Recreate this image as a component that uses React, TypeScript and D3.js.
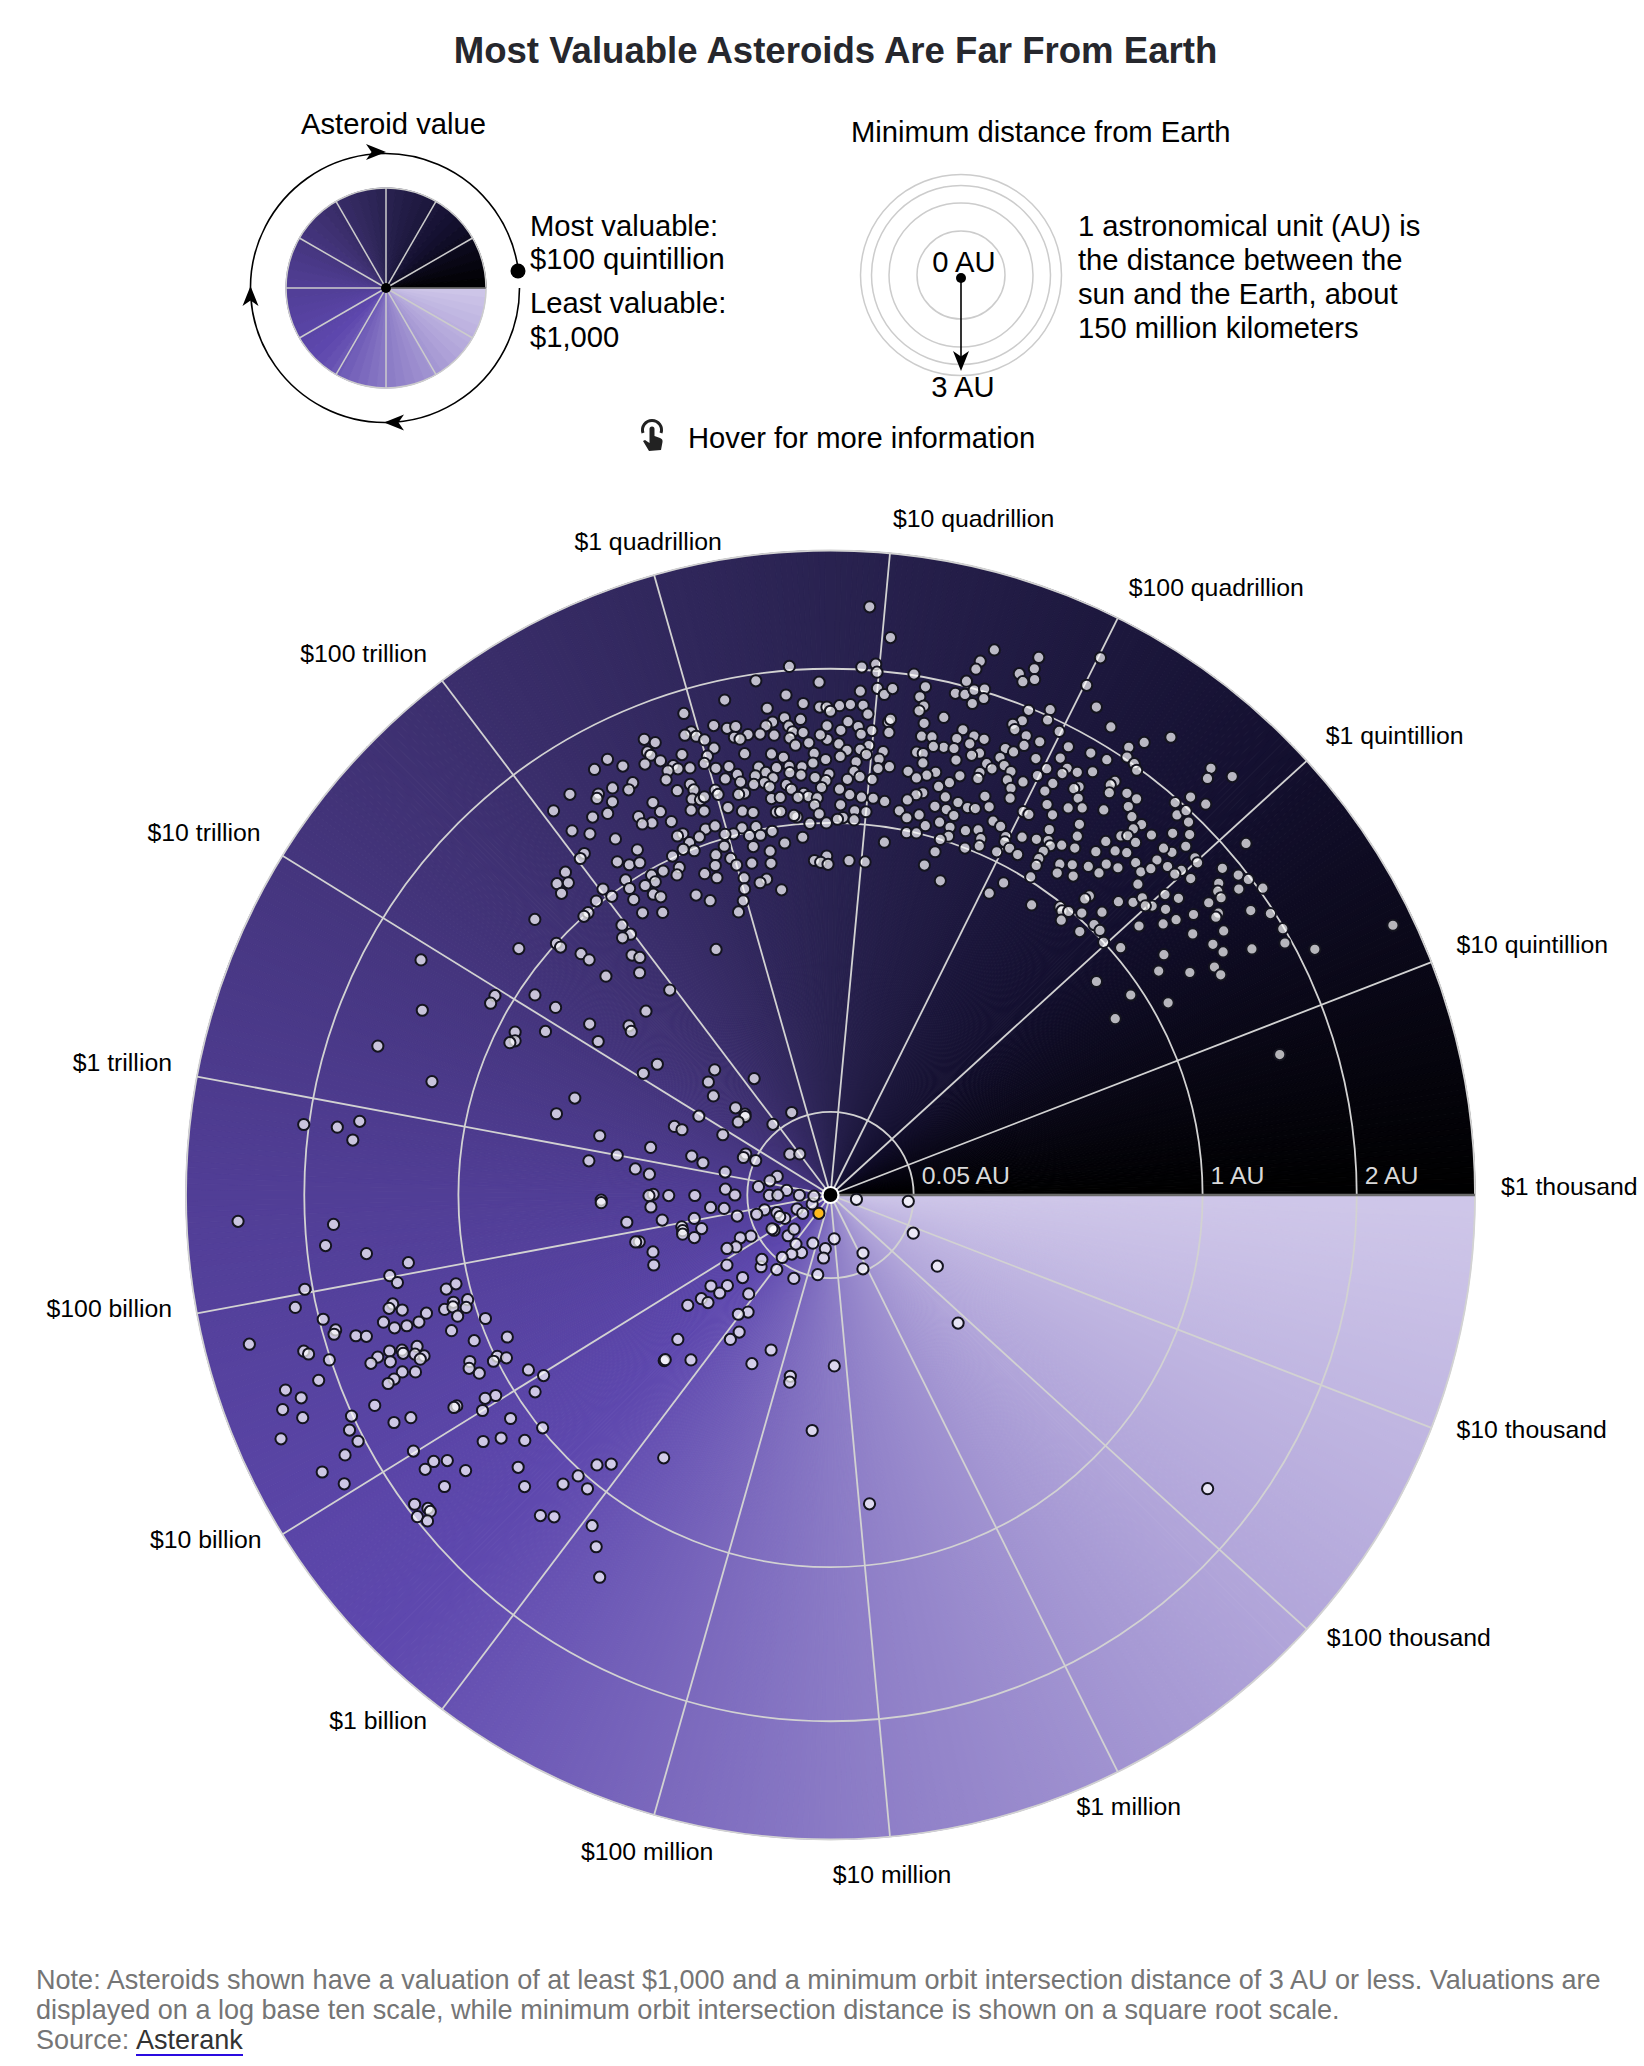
import { useEffect, useRef } from 'react'
import * as d3 from 'd3'

type Rock = [number, number] // [log10 of value in dollars, minimum orbit distance in AU]

const valueTicks = [3, 4, 5, 6, 7, 8, 9, 10, 11, 12, 13, 14, 15, 16, 17, 18, 19]
const valueLabels = [
  '$1 thousand', '$10 thousand', '$100 thousand', '$1 million', '$10 million', '$100 million',
  '$1 billion', '$10 billion', '$100 billion', '$1 trillion', '$10 trillion', '$100 trillion',
  '$1 quadrillion', '$10 quadrillion', '$100 quadrillion', '$1 quintillion', '$10 quintillion',
]
const distanceTicks = [0.05, 1, 2, 3]
const distanceLabels = ['0.05 AU', '1 AU', '2 AU']

const wheelStops = ['#cfc7e9', '#b0a4d9', '#8a7ac5', '#5e48ae', '#513e96', '#3f3173', '#292250', '#141030', '#000000']

const beltWest: Rock[] = [
  [15.93,2.51],[16.04,2.27],[15.54,2.03],[15.91,2.02],[15.98,2.05],[15.99,1.99],[15.36,1.95],[15.69,1.90],[15.91,1.84],[16.0,1.87],
  [16.04,1.83],[16.08,1.88],[15.18,1.85],[15.51,1.82],[15.60,1.75],[15.40,1.74],[15.69,1.72],[15.73,1.72],[15.80,1.73],[15.86,1.74],
  [15.93,1.74],[15.75,1.69],[14.95,1.83],[15.96,1.68],[15.49,1.66],[15.58,1.64],[15.42,1.64],[15.09,1.69],[15.16,1.65],[15.21,1.65],
  [15.38,1.62],[15.51,1.60],[15.85,1.62],[15.91,1.59],[16.08,1.64],[16.09,1.66],[16.09,1.57],[14.96,1.69],[14.92,1.68],[14.98,1.65],
  [15.53,1.56],[15.59,1.55],[15.99,1.57],[15.73,1.59],[15.81,1.56],[15.27,1.58],[15.34,1.57],[15.42,1.55],[15.19,1.58],[15.22,1.56],
  [14.70,1.75],[14.75,1.70],[15.02,1.61],[15.73,1.50],[15.93,1.54],[15.51,1.52],[15.69,1.53],[15.62,1.48],[15.54,1.47],[15.80,1.47],
  [15.98,1.47],[15.06,1.54],[15.93,1.44],[15.85,1.43],[14.69,1.66],[14.87,1.56],[15.23,1.46],[15.39,1.43],[15.65,1.41],[16.07,1.44],
  [15.81,1.39],[15.97,1.41],[15.72,1.37],[16.05,1.39],[14.70,1.63],[15.01,1.50],[14.47,1.73],[14.74,1.57],[15.46,1.40],[15.91,1.36],
  [14.38,1.71],[14.53,1.64],[14.65,1.59],[14.80,1.51],[14.82,1.48],[14.89,1.46],[14.98,1.46],[15.04,1.41],[15.12,1.40],[15.30,1.36],
  [15.41,1.34],[15.57,1.33],[15.64,1.35],[15.49,1.34],[16.05,1.33],[16.12,1.35],[14.76,1.49],[15.16,1.34],[15.34,1.32],[15.49,1.30],
  [15.56,1.28],[15.65,1.26],[15.74,1.28],[15.90,1.30],[15.94,1.27],[16.02,1.26],[14.73,1.44],[15.08,1.33],[15.17,1.29],[15.27,1.31],
  [15.38,1.28],[15.32,1.26],[15.86,1.25],[15.72,1.24],[14.54,1.51],[14.42,1.54],[15.25,1.26],[15.35,1.23],[15.46,1.23],[15.49,1.20],
  [15.69,1.20],[15.81,1.19],[15.88,1.16],[14.50,1.48],[14.33,1.55],[14.86,1.36],[14.87,1.32],[14.77,1.35],[15.0,1.28],[15.18,1.22],
  [15.14,1.22],[15.01,1.25],[15.57,1.17],[15.60,1.15],[15.66,1.14],[15.96,1.15],[16.04,1.15],[16.12,1.14],[14.19,1.65],[14.31,1.53],
  [14.38,1.46],[14.84,1.27],[14.89,1.25],[14.92,1.26],[14.60,1.34],[15.35,1.16],[15.41,1.16],[15.53,1.15],[15.64,1.10],[15.82,1.10],
  [15.05,1.16],[14.62,1.27],[14.06,1.62],[14.32,1.41],[14.81,1.21],[14.89,1.18],[15.14,1.12],[15.21,1.10],[15.37,1.08],[15.40,1.08],
  [15.92,1.07],[16.0,1.07],[14.48,1.30],[14.23,1.44],[14.66,1.19],[15.51,1.04],[15.49,1.05],[15.67,1.05],[15.60,1.00],[15.72,1.00],
  [15.84,1.03],[15.80,1.02],[15.92,1.02],[14.54,1.23],[14.48,1.25],[14.86,1.08],[14.93,1.08],[15.21,1.02],[15.11,1.03],[14.08,1.44],
  [14.16,1.36],[14.70,1.10],[14.80,1.05],[15.04,1.01],[14.98,1.02],[15.15,0.98],[15.23,0.97],[15.32,0.98],[15.54,0.93],[15.40,0.91],
  [14.66,1.10],[14.28,1.25],[14.72,1.04],[14.37,1.13],[14.06,1.28],[14.02,1.27],[14.73,0.99],[14.95,0.96],[15.16,0.92],[15.28,0.88],
  [16.16,0.92],[14.87,0.93],[14.57,1.01],[14.66,1.02],[14.21,1.13],[14.27,1.08],[14.34,1.06],[14.97,0.89],[15.0,0.85],[15.12,0.84],
  [15.27,0.82],[15.72,0.83],[15.62,0.81],[15.67,0.80],[15.73,0.79],[15.90,0.81],[16.03,0.81],[14.84,0.88],[14.58,0.94],[14.74,0.86],
  [14.46,0.96],[14.54,0.91],[14.37,0.97],[14.37,0.93],[14.82,0.82],[13.89,1.26],[13.80,1.24],[13.86,1.20],[13.78,1.18],[14.19,1.02],
  [14.02,1.05],[14.18,0.97],[14.29,0.94],[15.03,0.78],[15.21,0.75],[15.15,0.74],[15.01,0.73],[15.32,0.69],[14.31,0.88],[14.35,0.85],
  [14.04,0.99],[14.61,0.78],[14.70,0.73],[14.16,0.91],[13.93,1.02],[14.97,0.68],[13.83,1.00],[13.79,1.00],[14.16,0.83],[14.30,0.78],
  [14.90,0.64],[13.53,1.18],
]

const beltEast: Rock[] = [
  [16.54,2.34],[16.49,2.22],[16.48,2.15],[16.75,2.40],[16.75,2.30],[16.69,2.22],[16.72,2.17],[16.77,2.22],[16.18,2.01],[17.01,2.61],
  [16.25,1.93],[16.45,2.04],[17.01,2.35],[16.41,1.93],[16.46,1.94],[16.50,1.99],[16.55,2.02],[16.56,1.95],[16.51,1.89],[16.23,1.85],
  [16.26,1.79],[16.24,1.75],[16.38,1.74],[16.80,1.98],[16.90,2.05],[17.10,2.23],[16.79,1.89],[16.91,1.97],[16.75,1.84],[16.77,1.81],
  [16.28,1.67],[16.99,1.93],[17.21,2.15],[16.50,1.69],[16.57,1.67],[16.63,1.67],[16.28,1.58],[16.34,1.59],[16.48,1.62],[16.84,1.80],
  [16.92,1.80],[17.48,2.35],[17.39,2.19],[17.34,2.09],[16.56,1.61],[16.42,1.54],[16.48,1.55],[17.07,1.86],[16.85,1.73],[16.36,1.53],
  [16.63,1.57],[16.76,1.66],[16.81,1.66],[17.19,1.90],[17.36,2.02],[16.51,1.48],[16.27,1.47],[16.31,1.47],[16.59,1.54],[16.75,1.59],
  [17.06,1.76],[16.94,1.68],[17.28,1.92],[17.41,2.01],[16.32,1.41],[16.69,1.52],[17.02,1.65],[17.12,1.72],[17.72,2.36],[17.44,1.98],
  [16.73,1.50],[16.79,1.55],[16.84,1.53],[16.24,1.34],[16.41,1.37],[16.67,1.45],[17.11,1.67],[17.18,1.73],[17.25,1.79],[17.74,2.28],
  [17.82,2.43],[16.36,1.34],[16.56,1.39],[16.67,1.41],[16.84,1.47],[16.99,1.58],[16.93,1.50],[16.30,1.31],[16.51,1.33],[17.09,1.58],
  [17.23,1.65],[17.38,1.82],[17.07,1.51],[17.21,1.62],[17.37,1.78],[16.88,1.43],[16.45,1.29],[16.36,1.23],[17.39,1.73],[17.47,1.80],
  [16.90,1.37],[17.74,2.08],[17.53,1.81],[16.32,1.21],[16.51,1.24],[17.26,1.58],[17.70,1.97],[16.75,1.32],[17.82,2.12],[16.27,1.17],
  [16.23,1.10],[16.60,1.23],[16.46,1.17],[16.67,1.22],[17.12,1.44],[17.24,1.49],[17.31,1.54],[17.42,1.61],[16.54,1.17],[16.72,1.23],
  [16.80,1.27],[17.52,1.73],[17.18,1.40],[17.01,1.33],[17.05,1.33],[17.75,1.91],[17.77,1.98],[16.37,1.10],[16.60,1.15],[17.57,1.69],
  [16.29,1.07],[17.82,1.93],[17.35,1.44],[16.86,1.20],[16.43,1.05],[17.64,1.69],[16.52,1.09],[16.60,1.08],[16.92,1.19],[16.79,1.12],
  [16.71,1.09],[16.31,0.99],[16.38,1.00],[17.87,1.87],[17.08,1.19],[17.21,1.31],[17.62,1.63],[16.61,1.03],[16.56,1.00],[16.83,1.08],
  [16.98,1.15],[17.17,1.22],[17.24,1.25],[17.38,1.37],[17.80,1.79],[17.72,1.68],[17.59,1.54],[17.62,1.57],[18.10,2.14],[17.68,1.57],
  [17.54,1.45],[17.33,1.27],[16.84,1.04],[16.99,1.12],[17.27,1.23],[17.53,1.36],[17.62,1.44],[17.41,1.30],[17.90,1.79],[17.87,1.69],
  [16.75,1.00],[17.04,1.10],[17.82,1.67],[16.55,0.93],[17.68,1.48],[16.97,1.05],[17.11,1.09],[17.25,1.18],[17.25,1.13],[17.84,1.58],
  [17.76,1.47],[17.55,1.26],[17.63,1.34],[17.98,1.78],[16.50,0.85],[17.39,1.17],[17.46,1.21],[18.01,1.77],[17.70,1.37],[17.91,1.60],
  [18.12,1.88],[17.26,1.09],[17.41,1.12],[17.63,1.27],[17.51,1.16],[17.82,1.45],[17.85,1.51],[17.98,1.65],[17.97,1.60],[18.20,1.94],
  [17.27,1.02],[16.66,0.80],[17.12,0.92],[18.05,1.66],[18.25,1.98],[17.86,1.38],[18.17,1.79],[18.33,2.03],[17.06,0.84],[17.68,1.13],
  [18.26,1.88],[17.67,1.10],[18.02,1.46],[18.09,1.51],[18.20,1.75],[17.39,0.90],[17.85,1.22],[17.92,1.28],[17.94,1.34],[18.24,1.74],
  [18.02,1.35],[18.22,1.65],[17.57,0.98],[17.99,1.32],[18.09,1.40],[18.30,1.66],[18.39,1.86],[17.60,0.97],[17.64,0.99],[17.72,1.03],
  [17.82,1.11],[18.22,1.52],[18.46,1.97],[18.31,1.63],[18.18,1.41],[17.64,0.93],[18.15,1.33],[17.84,1.03],[17.90,1.03],[18.06,1.21],
  [18.40,1.62],[18.56,1.99],[17.80,0.95],[18.31,1.44],[17.98,1.00],[18.09,1.05],[18.43,1.51],[18.63,1.95],[18.57,1.72],[18.73,2.13],
  [18.50,1.54],[18.31,1.22],[18.55,1.44],[18.38,1.14],[18.50,1.29],[18.61,1.45],[18.17,0.84],[18.41,0.94],[18.60,1.09],[18.50,0.81],
  [19.18,1.60],[18.79,2.81],
]

const innerNorthWest: Rock[] = [
  [13.97,0.84],[13.98,0.78],[13.91,0.79],[13.31,1.14],[13.51,1.00],[13.51,0.97],[13.58,0.87],[13.59,0.82],[13.88,0.70],[13.92,0.67],
  [14.57,0.53],[13.59,0.71],[13.83,0.62],[13.95,0.49],[12.95,1.10],[12.89,1.10],[13.11,0.92],[13.12,0.80],[13.62,0.49],[12.79,0.91],
  [12.73,0.89],[12.70,0.91],[12.91,0.78],[13.17,0.63],[13.08,0.56],[13.39,0.50],[13.36,0.48],[13.25,0.34],[13.06,0.36],[13.73,0.21],
  [13.52,0.20],[13.40,0.17],[14.18,0.14],[12.48,0.54],[12.28,0.59],[12.96,0.17],[13.51,0.12],[13.55,0.10],[13.51,0.097],[13.31,0.10],
  [13.90,0.06],[14.56,0.06],[12.62,0.21],[12.62,0.19],[12.88,0.11],[12.18,0.41],[12.20,0.25],[11.88,0.43],[12.0,0.34],[12.24,0.15],
  [12.17,0.125],[12.72,0.064],[12.60,0.065],[12.67,0.049],[13.63,0.024],[14.01,0.019],[11.86,0.28],[11.81,0.24],[12.08,0.084],[12.41,0.023],
  [12.12,0.028],[11.81,0.038],[11.78,0.014],[11.65,0.08],[11.50,0.066],[11.51,0.227],[11.49,0.238],[11.49,0.189],[11.49,0.133],[11.44,0.38],
  [11.48,0.027],[11.49,0.02],[11.48,0.007],
  [12.91,1.61],[12.65,1.45],[12.36,1.64],[12.25,1.24],[11.86,2.04],[11.87,1.79],[11.92,1.64],[11.81,1.67],
]

const innerSouth: Rock[] = [
  [10.27,0.003],[11.31,0.002],[10.42,0.0095],[9.92,0.008],[10.22,0.019],[10.64,0.023],[10.41,0.022],[10.90,0.033],[10.81,0.042],[10.90,0.066],
  [11.16,0.083],[11.22,0.105],[11.32,0.234],[3.45,0.005],[3.22,0.044],[4.17,0.06],[5.87,0.032],[6.13,0.047],[4.59,0.119],[5.13,0.236],
  [7.02,0.014],[8.20,0.019],[7.51,0.021],[7.55,0.029],[7.68,0.047],[8.37,0.06],[8.51,0.03],[8.82,0.036],[8.91,0.026],[9.43,0.025],
  [9.46,0.018],[9.03,0.045],[8.94,0.061],[9.33,0.072],[9.46,0.064],[10.03,0.032],[9.99,0.032],[10.08,0.033],[10.21,0.058],[10.30,0.072],
  [10.14,0.084],[10.21,0.098],[9.89,0.113],[9.46,0.105],[9.55,0.136],[9.74,0.163],[9.54,0.158],[9.67,0.198],[9.55,0.192],[9.72,0.235],
  [9.12,0.119],[8.91,0.148],[9.03,0.164],[8.84,0.196],[8.89,0.223],[8.24,0.199],[9.45,0.319],[10.66,0.251],[10.48,0.261],[11.10,0.209],
  [11.04,0.138],[10.68,0.147],[10.81,0.128],[10.93,0.167],[10.86,0.167],[10.80,0.169],[10.85,0.28],
  [9.38,0.398],[9.38,0.393],[9.15,0.337],[8.43,0.25],[7.84,0.249],[7.83,0.265],[7.19,0.211],[7.46,0.403],[6.91,0.70],[8.78,0.70],[4.79,1.65],
]

const southWest: Rock[] = [
  [11.38,2.54],[11.34,1.79],[11.23,1.86],[11.16,1.58],[11.07,1.32],[11.01,1.45],[10.96,1.41],[11.02,2.06],[10.94,2.16],[10.85,1.97],
  [10.78,1.90],[10.76,1.92],[10.72,1.77],[10.70,1.70],[10.82,2.60],[10.72,2.18],[10.70,2.15],[10.64,2.01],[10.56,2.14],[10.57,2.42],
  [10.51,2.32],[10.49,2.50],[10.42,2.37],[10.37,2.61],[10.33,2.01],[10.27,2.07],[10.20,2.05],[10.17,2.19],[10.15,2.42],[10.05,2.31],
  [10.84,1.47],[10.82,1.50],[10.79,1.42],[10.73,1.28],[10.69,1.34],[10.69,1.42],[10.70,1.50],[10.75,1.56],[10.85,1.13],[10.87,1.07],
  [10.75,1.11],[10.74,1.03],[10.72,1.17],[10.72,1.12],[10.69,1.05],[10.65,1.11],[10.57,0.97],[10.57,1.17],[10.45,1.07],[10.38,0.90],
  [10.58,1.58],[10.56,1.50],[10.54,1.50],[10.55,1.40],[10.51,1.43],[10.48,1.38],[10.47,1.41],[10.57,1.67],[10.55,1.73],[10.52,1.60],
  [10.44,1.55],[10.41,1.47],[10.42,1.62],[10.41,1.67],[10.28,0.99],[10.24,0.95],[10.26,1.02],[10.33,1.14],[10.29,1.16],[10.23,1.12],
  [10.08,0.88],[9.98,0.83],[9.91,0.91],[10.04,1.10],[10.06,1.16],[10.00,1.21],[10.11,1.33],[10.11,1.35],[10.33,1.82],[10.20,1.75],
  [10.18,1.63],[9.85,1.10],[9.66,0.99],[9.83,1.31],[9.78,1.21],[9.67,1.11],[10.01,1.73],[9.90,1.65],[9.86,1.57],[9.89,1.73],
  [9.75,1.51],[9.75,1.69],[9.56,1.24],[9.44,1.29],[9.27,1.12],[9.23,1.03],[9.12,1.05],[9.18,0.92],[9.10,0.87],[9.77,1.94],
  [9.71,1.88],[9.69,1.88],[9.71,1.98],[9.66,1.94],[9.24,1.35],[9.17,1.30],[8.94,1.20],[8.84,1.29],[8.72,1.44],[11.41,0.38],
  [11.14,0.305],[10.86,0.29],
]

// the one rock picked out in yellow, right next to the centre
const highlighted: Rock[] = [[8.78, 0.0034]]

const rockGroups = [beltWest, beltEast, innerNorthWest, innerSouth, southWest]

const width = 1644
const height = 2066
const font = '"Liberation Sans", Arial, sans-serif'

export default function App() {
  const svgRef = useRef<SVGSVGElement>(null)

  useEffect(() => {
    if (!svgRef.current) return
    const svg = d3.select(svgRef.current)
    svg.selectAll('*').remove()

    const angle = d3.scaleLinear().domain([3, 20]).range([0, 2 * Math.PI])
    const radius = d3.scaleSqrt().domain([0, 3]).range([0, 644.5])
    const color = d3.scaleLinear<string>()
      .domain(wheelStops.map((_, i) => (i / (wheelStops.length - 1)) * 2 * Math.PI))
      .range(wheelStops)
      .interpolate(d3.interpolateRgb)

    // d3.pointRadial and d3.arc count from north, the chart counts from east
    const north = Math.PI / 2

    const drawWheel = (g: d3.Selection<SVGGElement, unknown, null, undefined>, r: number, steps: number) => {
      const arc = d3.arc<number>()
        .innerRadius(0)
        .outerRadius(r)
        .startAngle(i => (i / steps) * 2 * Math.PI + north)
        .endAngle(i => ((i + 1) / steps) * 2 * Math.PI + north)
      g.selectAll('path.wedge')
        .data(d3.range(steps))
        .join('path')
        .attr('class', 'wedge')
        .attr('d', arc)
        .attr('fill', i => color(((i + 0.5) / steps) * 2 * Math.PI))
        .attr('stroke', i => color(((i + 0.5) / steps) * 2 * Math.PI))
        .attr('stroke-width', 1)
    }

    const stealth = (g: d3.Selection<SVGGElement, unknown, null, undefined>, x: number, y: number, rot: number) => {
      g.append('path')
        .attr('d', 'M0,0L-20,-8L-14.5,0L-20,8Z')
        .attr('transform', `translate(${x},${y}) rotate(${rot})`)
        .attr('fill', '#000')
    }

    const label = (x: number, y: number, text: string, size = 29.2, anchor = 'start', fill = '#000', weight = 'normal') =>
      svg.append('text')
        .attr('x', x)
        .attr('y', y)
        .attr('text-anchor', anchor)
        .attr('font-family', font)
        .attr('font-size', size)
        .attr('font-weight', weight)
        .attr('fill', fill)
        .text(text)

    label(835.5, 63, 'Most Valuable Asteroids Are Far From Earth', 36.6, 'middle', '#26272d', 'bold')

    // value legend
    const valueKey = svg.append('g').attr('transform', 'translate(386,288)')
    drawWheel(valueKey, 100, 64)
    valueKey.append('circle').attr('r', 100).attr('fill', 'none').attr('stroke', '#ccc').attr('stroke-width', 1.5)
    d3.range(12).forEach(i => {
      const t = (i * Math.PI) / 6
      valueKey.append('line')
        .attr('x2', 100 * Math.cos(t))
        .attr('y2', 100 * Math.sin(t))
        .attr('stroke', i === 0 ? '#777' : '#ccc')
        .attr('stroke-width', 1.5)
    })
    valueKey.append('circle').attr('r', 5).attr('fill', '#000')
    const ringPath = d3.path()
    ringPath.arc(-1, 0, 134.5, 0, (352 / 180) * Math.PI)
    valueKey.append('path').attr('d', ringPath.toString()).attr('fill', 'none').attr('stroke', '#000').attr('stroke-width', 1.6)
    stealth(valueKey, -2, 134.5, 180)
    stealth(valueKey, -135.5, -2, -90)
    stealth(valueKey, 0, -136, 0)
    valueKey.append('circle').attr('cx', 132).attr('cy', -17).attr('r', 7.5).attr('fill', '#000')

    label(301, 134, 'Asteroid value')
    label(530, 236, 'Most valuable:')
    label(530, 269, '$100 quintillion')
    label(530, 313, 'Least valuable:')
    label(530, 347, '$1,000')

    // distance legend
    const distKey = svg.append('g').attr('transform', 'translate(961,275)')
    ;[100.5, 89.5, 72, 44].forEach(r => {
      distKey.append('circle').attr('r', r).attr('fill', 'none').attr('stroke', '#ccc').attr('stroke-width', 1.5)
    })
    distKey.append('line').attr('y1', 3).attr('y2', 88).attr('stroke', '#000').attr('stroke-width', 1.6)
    stealth(distKey, 0, 96, 90)
    distKey.append('circle').attr('cy', 3).attr('r', 5).attr('fill', '#000')
    label(851, 142, 'Minimum distance from Earth')
    label(964, 272, '0 AU', 29.2, 'middle')
    label(963, 397, '3 AU', 29.2, 'middle')
    ;['1 astronomical unit (AU) is', 'the distance between the', 'sun and the Earth, about', '150 million kilometers'].forEach((t, i) => {
      label(1078, 236 + i * 34, t)
    })

    // hover hint
    const hand = svg.append('g').attr('transform', 'translate(652,437)').attr('fill', '#222')
    hand.append('path')
      .attr('d', 'M-9,-4A9.5,9.5 0 1 1 9,-4')
      .attr('fill', 'none')
      .attr('stroke', '#222')
      .attr('stroke-width', 3)
    hand.append('path')
      .attr('d', 'M-2.5,-8A2.5,2.5 0 0 1 2.5,-8L2.5,-1L8,1Q11,2 10.5,5L9,13L-3,14L-9,4L-7,3L-2.5,6Z')
    label(688, 448, 'Hover for more information')

    // main wheel
    const chart = svg.append('g').attr('transform', 'translate(830.5,1195)')
    drawWheel(chart, radius(3), 720)

    chart.selectAll('circle.ring')
      .data(distanceTicks)
      .join('circle')
      .attr('class', 'ring')
      .attr('r', d => radius(d))
      .attr('fill', 'none')
      .attr('stroke', '#d2d2d2')
      .attr('stroke-width', 1.8)

    chart.selectAll('line.spoke')
      .data(valueTicks)
      .join('line')
      .attr('class', 'spoke')
      .attr('x2', d => radius(3) * Math.cos(angle(d)))
      .attr('y2', d => radius(3) * Math.sin(angle(d)))
      .attr('stroke', d => (d === 3 ? '#6a6a6a' : '#d2d2d2'))
      .attr('stroke-width', d => (d === 3 ? 2.4 : 1.8))

    chart.selectAll('text.ringLabel')
      .data(distanceLabels)
      .join('text')
      .attr('class', 'ringLabel')
      .attr('x', (_, i) => radius(distanceTicks[i]) + 8)
      .attr('y', -11)
      .attr('font-family', font)
      .attr('font-size', 24.8)
      .attr('fill', '#d9d9d9')
      .text(d => d)

    // tick labels sit off the end of their spoke; anchor and nudge are hand tuned per label
    const labelNudge: [string, number, number][] = [
      ['start', 26, 0], ['start', 25, 10], ['start', 20, 17], ['middle', 11, 43], ['middle', 2, 46], ['middle', -7, 45],
      ['end', -15, 20], ['end', -21, 14], ['end', -25, 4], ['end', -25, -6], ['end', -22, -15], ['end', -15, -19],
      ['middle', -6, -25], ['start', 3, -26], ['start', 11, -22], ['start', 19, -17], ['start', 25, -9],
    ]
    chart.selectAll('text.tick')
      .data(valueLabels)
      .join('text')
      .attr('class', 'tick')
      .attr('x', (_, i) => radius(3) * Math.cos(angle(valueTicks[i])) + labelNudge[i][1])
      .attr('y', (_, i) => radius(3) * Math.sin(angle(valueTicks[i])) + labelNudge[i][2])
      .attr('text-anchor', (_, i) => labelNudge[i][0])
      .attr('font-family', font)
      .attr('font-size', 24.8)
      .attr('fill', '#000')
      .text(d => d)

    const place = (d: Rock) => d3.pointRadial(angle(d[0]) + north, radius(d[1]))

    chart.selectAll('circle.rock')
      .data(rockGroups.flat())
      .join('circle')
      .attr('class', 'rock')
      .attr('cx', d => place(d)[0])
      .attr('cy', d => place(d)[1])
      .attr('r', 5.6)
      .attr('fill', 'rgba(255,255,255,0.7)')
      .attr('stroke', '#14141f')
      .attr('stroke-width', 2)

    chart.selectAll('circle.picked')
      .data(highlighted)
      .join('circle')
      .attr('class', 'picked')
      .attr('cx', d => place(d)[0])
      .attr('cy', d => place(d)[1])
      .attr('r', 5.6)
      .attr('fill', '#fdb91e')
      .attr('stroke', '#14141f')
      .attr('stroke-width', 2)

    chart.append('circle').attr('r', 8).attr('fill', '#000').attr('stroke', '#fff').attr('stroke-width', 2.2)

    // footnote
    const noteColor = '#757575'
    label(36, 1988.5, 'Note: Asteroids shown have a valuation of at least $1,000 and a minimum orbit intersection distance of 3 AU or less. Valuations are', 27.05, 'start', noteColor)
    label(36, 2018.5, 'displayed on a log base ten scale, while minimum orbit intersection distance is shown on a square root scale.', 27.05, 'start', noteColor)
    label(36, 2048.5, 'Source:', 27.05, 'start', noteColor)
    label(136, 2048.5, 'Asterank', 27.05, 'start', '#333')
    svg.append('line').attr('x1', 136).attr('x2', 243).attr('y1', 2055).attr('y2', 2055).attr('stroke', '#2a0be0').attr('stroke-width', 2.2)
  }, [])

  return (
    <svg
      ref={svgRef}
      width={width}
      height={height}
      style={{ display: 'block', position: 'absolute', left: 0, top: 0, background: '#fff' }}
    />
  )
}
